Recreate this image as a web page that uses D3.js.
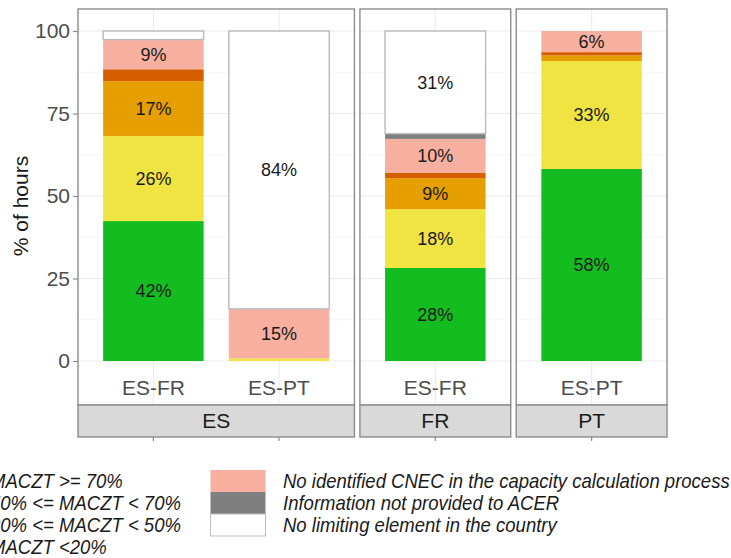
<!DOCTYPE html>
<html>
<head>
<meta charset="utf-8">
<script src="https://cdn.jsdelivr.net/npm/d3@7"></script>
<style>
  body { margin: 0; background: #fff; }
  svg { display: block; font-family: "Liberation Sans", Arial, sans-serif; }
</style>
</head>
<body>
<div id="chart"></div>
<script>
// panels (facets) and the borders shown in each
var panels = ['ES', 'FR', 'PT'];
var borderNames = ['ES-FR', 'ES-PT', 'ES-FR', 'ES-PT'];
var borderPanel = ['ES', 'ES', 'FR', 'PT'];

// % of hours per category, one value per border (same order as above)
var maczt70 = [42.4, 0, 28.2, 58.2];
var maczt50 = [25.8, 0.8, 17.8, 32.7];
var maczt20 = [16.6, 0, 9.4, 1.7];
var macztLow = [3.6, 0, 1.7, 1.0];
var noCnec = [9.0, 15.0, 10.2, 6.4];
var noInfo = [0, 0, 1.6, 0];
var noLimit = [2.6, 84.2, 31.1, 0];

var keys = ['maczt70', 'maczt50', 'maczt20', 'macztLow', 'noCnec', 'noInfo', 'noLimit'];
var colors = ['#13BD1F', '#F0E442', '#E69F00', '#D55E00', '#F7B0A0', '#7F7F7F', '#FFFFFF'];
var legendLeft = ['MACZT >= 70%', '50% <= MACZT < 70%', '20% <= MACZT < 50%', 'MACZT <20%'];
var legendRight = ['No identified CNEC in the capacity calculation process', 'Information not provided to ACER', 'No limiting element in the country'];
var yTicks = [0, 25, 50, 75, 100];

// build rows for d3.stack
var rows = borderNames.map(function (b, i) {
    return { border: b, panel: borderPanel[i], maczt70: maczt70[i], maczt50: maczt50[i], maczt20: maczt20[i],
        macztLow: macztLow[i], noCnec: noCnec[i], noInfo: noInfo[i], noLimit: noLimit[i] };
});
var series = d3.stack().keys(keys)(rows);

var width = 731, height = 558;
var svg = d3.select('#chart').append('svg').attr('width', width).attr('height', height);

var left = 78, right = 667, gap = 5.5;
var panelTop = 9, panelBottom = 405, stripBottom = 437;

var y = d3.scaleLinear().domain([0, 100]).range([361, 31]);

// panel widths proportional to number of bars + expansion
var counts = panels.map(function (p) { return borderPanel.filter(function (d) { return d === p; }).length; });
var unit = (right - left - gap * (panels.length - 1)) / d3.sum(counts, function (c) { return c + 0.2; });
var x0 = left;
var panelInfo = panels.map(function (p, i) {
    var w = (counts[i] + 0.2) * unit;
    var info = { name: p, x: x0, w: w };
    x0 += w + gap;
    return info;
});

panelInfo.forEach(function (pi) {
    var idx = d3.range(rows.length).filter(function (i) { return rows[i].panel === pi.name; });
    var x = d3.scaleBand().domain(idx).range([pi.x, pi.x + pi.w]).paddingInner(0.2).paddingOuter(0.2);
    var g = svg.append('g');

    // grid
    var minor = [-12.5, 12.5, 37.5, 62.5, 87.5];
    g.selectAll('.minor').data(minor).enter().append('line')
        .attr('x1', pi.x).attr('x2', pi.x + pi.w)
        .attr('y1', function (d) { return y(d); }).attr('y2', function (d) { return y(d); })
        .attr('stroke', '#f4f4f4').attr('stroke-width', 0.8);
    g.selectAll('.major').data(yTicks).enter().append('line')
        .attr('x1', pi.x).attr('x2', pi.x + pi.w)
        .attr('y1', function (d) { return y(d); }).attr('y2', function (d) { return y(d); })
        .attr('stroke', '#ebebeb').attr('stroke-width', 1.1);
    g.selectAll('.vgrid').data(idx).enter().append('line')
        .attr('x1', function (d) { return x(d) + x.bandwidth() / 2; })
        .attr('x2', function (d) { return x(d) + x.bandwidth() / 2; })
        .attr('y1', panelTop).attr('y2', panelBottom)
        .attr('stroke', '#ebebeb').attr('stroke-width', 1.1);

    // stacked bars
    series.forEach(function (s, k) {
        idx.forEach(function (i) {
            var d = s[i];
            if (d[1] - d[0] <= 0) return;
            g.append('rect')
                .attr('x', x(i)).attr('width', x.bandwidth())
                .attr('y', y(d[1])).attr('height', y(d[0]) - y(d[1]))
                .attr('fill', colors[k])
                .attr('stroke', s.key === 'noLimit' ? '#bdbdbd' : 'none')
                .attr('stroke-width', 1.5);
        });
    });
    // value labels
    series.forEach(function (s) {
        idx.forEach(function (i) {
            var d = s[i];
            var v = d[1] - d[0];
            if (v < 5) return;
            g.append('text')
                .attr('x', x(i) + x.bandwidth() / 2)
                .attr('y', y((d[0] + d[1]) / 2))
                .attr('dy', '0.35em')
                .attr('text-anchor', 'middle')
                .style('font-size', '18px').style('fill', '#1a1a1a')
                .text(Math.round(v) + '%');
        });
    });

    // x labels inside panel
    g.selectAll('.xl').data(idx).enter().append('text')
        .attr('x', function (d) { return x(d) + x.bandwidth() / 2; })
        .attr('y', 395)
        .attr('text-anchor', 'middle')
        .style('font-size', '21px').style('fill', '#4d4d4d')
        .text(function (d) { return rows[d].border; });

    // border
    g.append('rect').attr('x', pi.x).attr('y', panelTop).attr('width', pi.w).attr('height', panelBottom - panelTop)
        .attr('fill', 'none').attr('stroke', '#8c8c8c').attr('stroke-width', 1.4);
    // strip
    g.append('rect').attr('x', pi.x).attr('y', panelBottom).attr('width', pi.w).attr('height', stripBottom - panelBottom)
        .attr('fill', '#d9d9d9').attr('stroke', '#8c8c8c').attr('stroke-width', 1.4);
    g.append('text').attr('x', pi.x + pi.w / 2).attr('y', (panelBottom + stripBottom) / 2)
        .attr('dy', '0.35em').attr('text-anchor', 'middle')
        .style('font-size', '21px').style('fill', '#1a1a1a').text(pi.name);
    // ticks under strip
    g.selectAll('.xt').data(idx).enter().append('line')
        .attr('x1', function (d) { return x(d) + x.bandwidth() / 2; })
        .attr('x2', function (d) { return x(d) + x.bandwidth() / 2; })
        .attr('y1', stripBottom).attr('y2', stripBottom + 4)
        .attr('stroke', '#8c8c8c').attr('stroke-width', 1.2);
});

// y axis
var yAxis = svg.append('g').attr('transform', 'translate(' + left + ',0)')
    .call(d3.axisLeft(y).tickValues(yTicks).tickSize(5).tickPadding(3));
yAxis.select('.domain').remove();
yAxis.selectAll('line').attr('stroke', '#8c8c8c').attr('stroke-width', 1.2);
yAxis.selectAll('text').style('font-size', '21px').style('fill', '#4d4d4d').style('font-family', '"Liberation Sans", Arial, sans-serif');

svg.append('text')
    .attr('transform', 'translate(28,206) rotate(-90)')
    .attr('text-anchor', 'middle')
    .style('font-size', '21px').style('fill', '#1a1a1a')
    .text('% of hours');

// legend (text is condensed horizontally like the original narrow italic face)
var rowH = 22, legTop = 470, squeeze = 1;
function legendText(sel, x0) {
    sel.attr('transform', function (d, i) {
            return 'translate(' + x0 + ',' + (legTop + rowH * i + rowH / 2) + ') scale(' + squeeze + ',1)';
        })
        .attr('dy', '0.35em')
        .style('font-style', 'italic').style('font-size', '20px').style('fill', '#1a1a1a')
        .text(function (d) { return d; });
}
var ll = svg.selectAll('.ll').data(legendLeft).enter().append('text');
legendText(ll, -10);

svg.selectAll('.lk').data(legendRight).enter().append('rect')
    .attr('x', 210.5).attr('width', 55).attr('y', function (d, i) { return legTop + rowH * i; }).attr('height', rowH)
    .attr('fill', function (d, i) { return colors[4 + i]; })
    .attr('stroke', function (d, i) { return i === 2 ? '#bdbdbd' : 'none'; });
var lr = svg.selectAll('.lr').data(legendRight).enter().append('text');
legendText(lr, 283);
// fit the long first line so it ends at the right edge as in the original
squeeze = 447 / lr.node().getComputedTextLength();
legendText(ll, -10);
legendText(lr, 283);
</script>
</body>
</html>
